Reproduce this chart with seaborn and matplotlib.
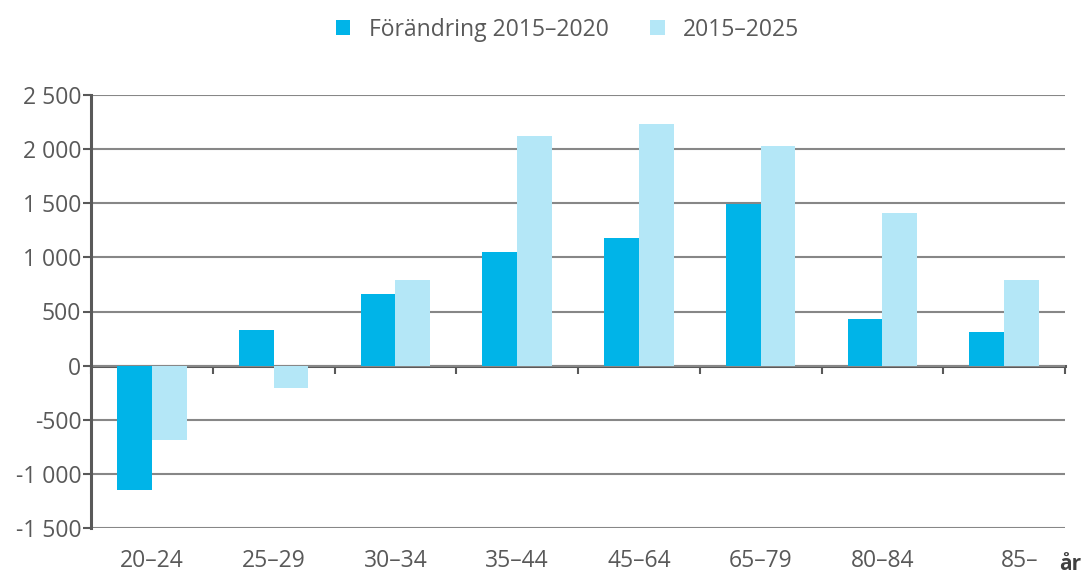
import matplotlib
matplotlib.use("Agg")
import matplotlib.pyplot as plt
import matplotlib.transforms as mtransforms
import seaborn as sns
import pandas as pd
import numpy as np
from matplotlib.patches import Patch

categories = ["20–24", "25–29", "30–34", "35–44", "45–64", "65–79", "80–84", "85–"]
series_names = ["Förändring 2015–2020", "2015–2025"]
change_2020 = [-1150, 330, 665, 1050, 1180, 1490, 430, 310]
change_2025 = [-690, -205, 795, 2125, 2235, 2025, 1410, 795]
y_ticks = [-1500, -1000, -500, 0, 500, 1000, 1500, 2000, 2500]
colors = ["#00B4E8", "#B4E7F7"]
text_color = "#595959"

sns.set_theme(style="white")
plt.rcParams["font.family"] = ["Open Sans", "DejaVu Sans"]

df = pd.DataFrame({
    "cat": categories * 2,
    "series": [series_names[0]] * len(categories) + [series_names[1]] * len(categories),
    "value": change_2020 + change_2025,
})

fig = plt.figure(figsize=(10.85, 5.75), dpi=100)
ax = fig.add_axes([91 / 1085, 47 / 575, (1065 - 91) / 1085, (528 - 95) / 575])

sns.barplot(data=df, x="cat", y="value", hue="series", palette=colors,
            width=0.57, gap=0, saturation=1, ax=ax, legend=False, errorbar=None,
            linewidth=0, edgecolor="none")

ax.set_xlim(-0.5, len(categories) - 0.5)
ax.set_ylim(y_ticks[0], y_ticks[-1])
ax.set_yticks(y_ticks)
ax.set_yticklabels([f"{v:,}".replace(",", " ") for v in y_ticks])
ax.set_xlabel("")
ax.set_ylabel("")

ax.grid(axis="y", color="#878787", linewidth=1.5)
ax.grid(axis="x", visible=False)
ax.set_axisbelow(True)

for s in ["top", "right", "bottom"]:
    ax.spines[s].set_visible(False)
ax.spines["left"].set_color(text_color)
ax.spines["left"].set_linewidth(2.2)
ax.spines["left"].set_zorder(5)

ax.tick_params(axis="y", direction="out", length=5.5, width=1.5, color=text_color,
               labelcolor=text_color, labelsize=16.5, pad=1.5, left=True)
ax.tick_params(axis="x", length=0, labelcolor=text_color, labelsize=16.5, pad=15)

# shift the last category label slightly right, as in the original
last = ax.get_xticklabels()[-1]
last.set_transform(last.get_transform() +
                   mtransforms.ScaledTranslation(0.16, 0, fig.dpi_scale_trans))

# zero axis line with boundary ticks
zero_frac = (0 - y_ticks[0]) / (y_ticks[-1] - y_ticks[0])
sec = ax.secondary_xaxis(zero_frac)
sec.set_xticks(np.arange(-0.5, len(categories), 1.0))
sec.set_xticklabels([])
sec.spines["bottom"].set_color(text_color)
sec.spines["bottom"].set_linewidth(2.2)
sec.tick_params(axis="x", direction="out", length=5.5, width=1.5, color=text_color)

handles = [Patch(facecolor=c, edgecolor="none") for c in colors]
fig.legend(handles, series_names, loc="center", bbox_to_anchor=(0.523, 0.948), ncol=2,
           frameon=False, handlelength=0.65, handleheight=0.65,
           handletextpad=0.8, columnspacing=1.8, labelcolor=text_color,
           prop={"size": 16.5})

fig.text(1070 / 1085, 1 - 564 / 575, "år", ha="center", va="center",
         fontsize=15, fontweight="bold", color="#404040")

fig.savefig("out.png", dpi=100)
